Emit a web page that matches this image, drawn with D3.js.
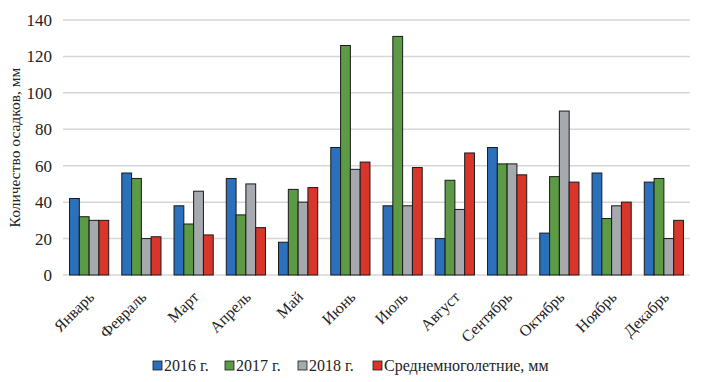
<!DOCTYPE html>
<html>
<head>
<meta charset="utf-8">
<script src="https://cdn.jsdelivr.net/npm/d3@7"></script>
<style>
  body { margin: 0; background: #fff; }
  svg text { font-family: "Liberation Serif", "Times New Roman", Tinos, "DejaVu Serif", serif !important; }
</style>
</head>
<body>
<div id="chart"></div>
<script>
const months = ["Январь", "Февраль", "Март", "Апрель", "Май", "Июнь",
  "Июль", "Август", "Сентябрь", "Октябрь", "Ноябрь", "Декабрь"];
const seriesNames = ["2016 г.", "2017 г.", "2018 г.", "Среднемноголетние, мм"];
const values2016 = [42, 56, 38, 53, 18, 70, 38, 20, 70, 23, 56, 51];
const values2017 = [32, 53, 28, 33, 47, 126, 131, 52, 61, 54, 31, 53];
const values2018 = [30, 20, 46, 50, 40, 58, 38, 36, 61, 90, 38, 20];
const valuesAvg = [30, 21, 22, 26, 48, 62, 59, 67, 55, 51, 40, 30];
const yTicks = [0, 20, 40, 60, 80, 100, 120, 140];
const colors = ["#2b70bd", "#5c9a45", "#a6a9ae", "#d8352b"];

const series = [values2016, values2017, values2018, valuesAvg];

const width = 708;
const height = 382;
const margin = { top: 20, right: 18, bottom: 107, left: 63 };
const innerW = width - margin.left - margin.right;
const innerH = height - margin.top - margin.bottom;

const svg = d3.select("#chart")
  .append("svg")
  .attr("width", width)
  .attr("height", height);

const g = svg.append("g")
  .attr("transform", `translate(${margin.left},${margin.top})`);

const x = d3.scaleBand().domain(months).range([0, innerW]).paddingInner(0.25).paddingOuter(0.125);
const xs = d3.scaleBand().domain(d3.range(series.length)).range([0, x.bandwidth()]);
const y = d3.scaleLinear().domain([0, 140]).range([innerH, 0]);

// gridlines
g.append("g")
  .selectAll("line")
  .data(yTicks)
  .join("line")
  .attr("x1", 0)
  .attr("x2", innerW)
  .attr("y1", (d) => y(d))
  .attr("y2", (d) => y(d))
  .attr("stroke", "#d6d6d6")
  .attr("stroke-width", 1.5);

// y axis labels
const yAxis = g.append("g")
  .call(d3.axisLeft(y).tickValues(yTicks).tickSize(0).tickPadding(11))
  .call((g) => g.select(".domain").remove());
yAxis.selectAll("text")
  .attr("font-size", 17)
  .attr("fill", "#222");

svg.append("text")
  .attr("transform", `translate(20,${margin.top + innerH / 2}) rotate(-90)`)
  .attr("text-anchor", "middle")
  .attr("font-size", 15.5)
  .attr("fill", "#222")
  .text("Количество осадков, мм");

// bars
const groups = g.append("g")
  .selectAll("g")
  .data(months)
  .join("g")
  .attr("transform", (d) => `translate(${x(d)},0)`);

groups.selectAll("rect")
  .data((m, i) => series.map((s, k) => ({ k, v: s[i] })))
  .join("rect")
  .attr("x", (d) => xs(d.k))
  .attr("width", xs.bandwidth())
  .attr("y", (d) => y(d.v))
  .attr("height", (d) => y(0) - y(d.v))
  .attr("fill", (d) => colors[d.k])
  .attr("stroke", "#1a1a1a")
  .attr("stroke-width", 1);

// x labels
const xAxis = g.append("g")
  .attr("transform", `translate(0,${innerH})`)
  .call(d3.axisBottom(x).tickSize(0).tickPadding(0))
  .call((g) => g.select(".domain").remove());
xAxis.selectAll("text")
  .attr("font-size", 16)
  .attr("fill", "#222")
  .attr("text-anchor", "end")
  .attr("dy", 0)
  .attr("transform", "translate(6,23) rotate(-45)");

// legend
const legend = svg.append("g")
  .attr("transform", `translate(153,${height - 11})`);
const legendX = [0, 72, 145, 220];
const item = legend.selectAll("g")
  .data(seriesNames)
  .join("g")
  .attr("transform", (d, i) => `translate(${legendX[i]},0)`);
item.append("rect")
  .attr("x", 0)
  .attr("y", -10)
  .attr("width", 9)
  .attr("height", 9)
  .attr("fill", (d, i) => colors[i])
  .attr("stroke", "#1a1a1a")
  .attr("stroke-width", 0.8);
item.append("text")
  .attr("x", 11)
  .attr("y", 0)
  .attr("font-size", 16)
  .attr("fill", "#222")
  .text((d) => d);
</script>
</body>
</html>
